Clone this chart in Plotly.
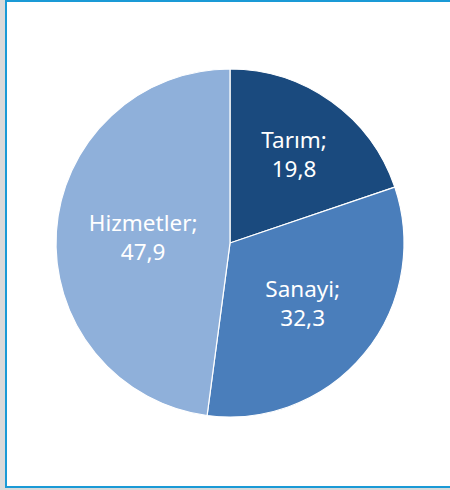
import plotly.graph_objects as go

categories = ["Tarım", "Sanayi", "Hizmetler"]
values = [19.8, 32.3, 47.9]
value_labels = ["19,8", "32,3", "47,9"]
colors = ["#1A4A7E", "#4A7EBB", "#8FB0DA"]

texts = [f"{c};<br>{v}" for c, v in zip(categories, value_labels)]

fig = go.Figure(go.Pie(
    labels=categories,
    values=values,
    text=texts,
    textinfo="text",
    textposition="inside",
    insidetextorientation="horizontal",
    sort=False,
    direction="clockwise",
    rotation=0,
    marker=dict(colors=colors, line=dict(color="white", width=1.2)),
    textfont=dict(family="Noto Sans", size=22.5, color="white"),
    hoverinfo="label+value",
    domain=dict(x=[56/450, 404/450], y=[73/490, 421/490]),
    showlegend=False,
))

fig.update_layout(
    width=450, height=490,
    margin=dict(l=0, r=0, t=0, b=0),
    paper_bgcolor="white",
    plot_bgcolor="white",
    uniformtext=dict(minsize=20, mode="show"),
    shapes=[
        dict(type="rect", xref="paper", yref="paper", x0=0, x1=5/450, y0=0, y1=1,
             fillcolor="#DADADA", line=dict(width=0), layer="below"),
        dict(type="rect", xref="paper", yref="paper", x0=0, x1=1, y0=0, y1=2/490,
             fillcolor="#DADADA", line=dict(width=0), layer="below"),
        dict(type="line", xref="paper", yref="paper", x0=6/450, x1=6/450, y0=3/490, y1=1,
             line=dict(color="#1A9AD6", width=2)),
        dict(type="line", xref="paper", yref="paper", x0=5/450, x1=1, y0=1 - 1/490, y1=1 - 1/490,
             line=dict(color="#1A9AD6", width=2)),
        dict(type="line", xref="paper", yref="paper", x0=5/450, x1=1, y0=3/490, y1=3/490,
             line=dict(color="#1A9AD6", width=2)),
    ],
)

fig.write_html(
    "out.html",
    config={"displayModeBar": False},
    post_script="document.body.style.margin='0';document.body.style.padding='0';",
)
